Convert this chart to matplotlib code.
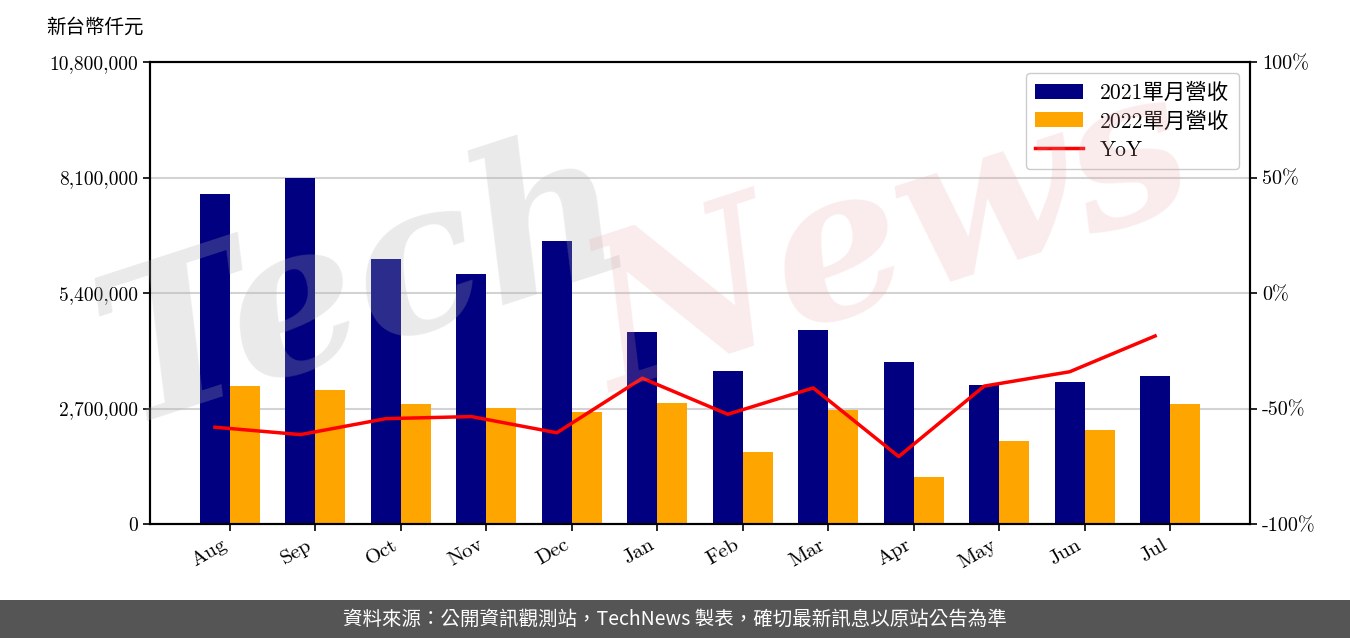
import numpy as np
import matplotlib
matplotlib.use("Agg")
import matplotlib.pyplot as plt
from matplotlib.ticker import FuncFormatter
from matplotlib.patches import Rectangle

months = ["Aug", "Sep", "Oct", "Nov", "Dec", "Jan", "Feb", "Mar", "Apr", "May", "Jun", "Jul"]
rev_2021 = [7710000, 8090000, 6190000, 5840000, 6610000, 4490000, 3580000, 4540000, 3790000, 3250000, 3320000, 3460000]
rev_2022 = [3230000, 3130000, 2800000, 2710000, 2620000, 2830000, 1680000, 2660000, 1100000, 1940000, 2200000, 2810000]
yoy = [-58.1, -61.3, -54.4, -53.5, -60.5, -36.9, -52.5, -41.1, -70.8, -40.3, -34.1, -18.6]
left_ticks = [0, 2700000, 5400000, 8100000, 10800000]
right_ticks = [-100, -50, 0, 50, 100]
labels = ["2021單月營收", "2022單月營收", "YoY"]
unit_label = "新台幣仟元"
footer = "資料來源：公開資訊觀測站，TechNews 製表，確切最新訊息以原站公告為準"

SERIF = ["cmr10", "Noto Sans CJK TC", "DejaVu Serif"]
plt.rcParams["font.family"] = SERIF
plt.rcParams["axes.unicode_minus"] = False

fig = plt.figure(figsize=(13.5, 6.38), dpi=100)
ax = fig.add_axes([150/1350, 1 - 524/638, 1100/1350, 462/638])

x = np.arange(len(months))
w = 0.35
ax.bar(x, rev_2021, w, color="#000080", label=labels[0], zorder=2)
ax.bar(x + w, rev_2022, w, color="#FFA500", label=labels[1], zorder=2)
ax.set_ylim(0, 10800000)
ax.set_yticks(left_ticks)
ax.yaxis.set_major_formatter(FuncFormatter(lambda v, p: f"{int(v):,}"))
ax.set_xticks(x + w / 2)
ax.set_xticklabels(months, rotation=30, ha="right", rotation_mode="default")
ax.grid(axis="y", color="#d3d3d3", linewidth=1.5, zorder=0)
ax.set_axisbelow(True)
for s in ax.spines.values():
    s.set_linewidth(1.5)
ax.tick_params(axis="y", labelsize=14, width=1.2, length=5)
ax.tick_params(axis="x", labelsize=15, width=1.2, length=5)

ax2 = ax.twinx()
ax2.plot(x, yoy, color="#FF0000", linewidth=2.5, label=labels[2], zorder=3)
ax2.set_ylim(-100, 100)
ax2.set_yticks(right_ticks)
ax2.yaxis.set_major_formatter(FuncFormatter(lambda v, p: f"{int(v)}%"))
ax2.tick_params(labelsize=14.5, width=1.2, length=5)
for s in ax2.spines.values():
    s.set_linewidth(1.5)

h1, l1 = ax.get_legend_handles_labels()
h2, l2 = ax2.get_legend_handles_labels()
leg = ax2.legend(h1 + h2, l1 + l2, loc="upper right", fontsize=15.5, framealpha=1,
                 edgecolor="#cccccc", handlelength=2.2, borderpad=0.45, labelspacing=0.4)

# watermark
fig.text(0.27, 0.55, "Tech", fontsize=150, color="#b0b0b0", alpha=0.26, rotation=18,
         ha="center", va="center", family="DejaVu Serif", style="italic", weight="bold", zorder=10)
fig.text(0.66, 0.62, "News", fontsize=150, color="#e8a0a0", alpha=0.2, rotation=18,
         ha="center", va="center", family="DejaVu Serif", style="italic", weight="bold", zorder=10)

fig.text(95/1350, 1 - 27/638, unit_label, fontsize=14, ha="center", va="center")

fig.patches.append(Rectangle((0, 0), 1, 38/638, transform=fig.transFigure,
                             facecolor="#555555", edgecolor="none", zorder=0))
fig.text(0.5, 19/638, footer, fontsize=14, color="white", ha="center", va="center",
         family=["Noto Sans CJK TC", "DejaVu Sans"])

fig.savefig("out.png", dpi=100)
